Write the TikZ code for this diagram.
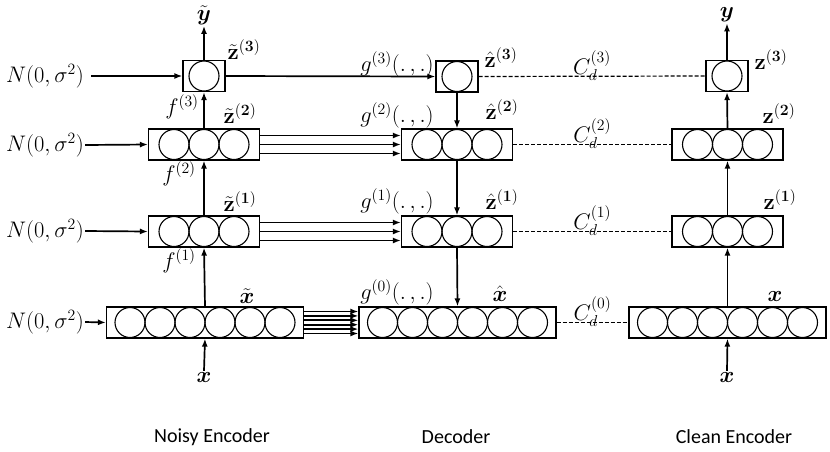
\RequirePackage{fix-cm}
\documentclass[tikz,border=0pt]{standalone}
\usepackage{amsmath}
\usepackage[no-math]{fontspec}
\setmainfont{Carlito}
\usetikzlibrary{positioning,arrows.meta}

\begin{document}
\begin{tikzpicture}[x=1pt, y=-1pt,
  lbl/.style={font=\fontsize{22.5}{26}\selectfont, inner sep=1pt},
  layer/.style={draw, line width=1.2pt, minimum height=31pt, inner sep=0pt},
  onebox/.style={layer, minimum width=42pt},
  threebox/.style={layer, minimum width=111pt},
  sixbox/.style={layer, minimum width=197pt},
  arr/.style={-{Latex[length=8pt,width=6pt]}, line width=1.7pt},
  costline/.style={line width=1.2pt, dash pattern=on 4pt off 2pt},
  title/.style={font=\fontsize{20}{24}\selectfont},
]
\useasboundingbox (0,0) rectangle (830,451);

% Noisy encoder
\node[onebox] (nz3) at (204,76) {};
\node[threebox] (nz2) at (204,144.5) {};
\node[threebox] (nz1) at (204,231.5) {};
\node[sixbox] (nx) at (205,322.5) {};

% Decoder
\node[onebox] (dz3) at (457,76.5) {};
\node[threebox] (dz2) at (457,144.5) {};
\node[threebox] (dz1) at (457,231.5) {};
\node[sixbox] (dx) at (457.5,322.5) {};

% Clean encoder
\node[onebox] (cz3) at (727,76) {};
\node[threebox] (cz2) at (727.5,144.5) {};
\node[threebox] (cz1) at (727.5,231.5) {};
\node[sixbox] (cx) at (727.5,322.5) {};

% units inside the layers
\foreach \b/\k in {nz3/1,dz3/1,cz3/1,nz2/3,dz2/3,cz2/3,nz1/3,dz1/3,cz1/3,nx/6,dx/6,cx/6}
  \foreach \i in {1,...,\k}
    \draw[line width=1.1pt] ([xshift={(\i-(\k+1)/2)*30}]\b.center) circle[radius=15pt];

% noise inputs
\node[lbl, anchor=west] (n3) at (5,76) {$N(0,\sigma^2)$};
\node[lbl, anchor=west] (n2) at (5,145) {$N(0,\sigma^2)$};
\node[lbl, anchor=west] (n1) at (5,231) {$N(0,\sigma^2)$};
\node[lbl, anchor=west] (n0) at (5,322) {$N(0,\sigma^2)$};

% inputs and outputs
\node[lbl] (ytil) at (204,15) {$\tilde{\boldsymbol{y}}$};
\node[lbl] (ycl) at (727,15) {$\boldsymbol{y}$};
\node[lbl] (xin) at (204,377) {$\boldsymbol{x}$};
\node[lbl] (xcl) at (727,377) {$\boldsymbol{x}$};

% layer labels
\node[lbl] at (244,50) {$\tilde{\mathbf{z}}^{(\mathbf{3})}$};
\node[lbl] at (240,114) {$\tilde{\mathbf{z}}^{(\mathbf{2})}$};
\node[lbl] at (240,202) {$\tilde{\mathbf{z}}^{(\mathbf{1})}$};
\node[lbl] at (247,296) {$\tilde{\boldsymbol{x}}$};
\node[lbl] at (182,107) {$f^{(3)}$};
\node[lbl] at (179,174) {$f^{(2)}$};
\node[lbl] at (179,261) {$f^{(1)}$};

\node[lbl] at (501,58) {$\hat{\mathbf{z}}^{(\mathbf{3})}$};
\node[lbl] at (502,110) {$\hat{\mathbf{z}}^{(\mathbf{2})}$};
\node[lbl] at (502,200) {$\hat{\mathbf{z}}^{(\mathbf{1})}$};
\node[lbl] at (500,294) {$\hat{\boldsymbol{x}}$};
\node[lbl] at (397,64) {$g^{(3)}(.\,,.)$};
\node[lbl] at (397,115) {$g^{(2)}(.\,,.)$};
\node[lbl] at (397,201) {$g^{(1)}(.\,,.)$};
\node[lbl] at (397,292) {$g^{(0)}(.\,,.)$};

\node[lbl] at (771,60) {$\mathbf{z}^{(\mathbf{3})}$};
\node[lbl] at (779,114) {$\mathbf{z}^{(\mathbf{2})}$};
\node[lbl] at (780,200) {$\mathbf{z}^{(\mathbf{1})}$};
\node[lbl] at (775,296) {$\boldsymbol{x}$};

% titles
\node[title] (tn) at (212,437) {Noisy Encoder};
\node[title] (td) at (456,437) {Decoder};
\node[title] (tc) at (734,437) {Clean Encoder};

% Arrows
\draw[arr] ([xshift=6pt]n3.east) -- (nz3.west);
\draw[arr] (n2.east) -- (nz2.west);
\draw[arr] (n1.east) -- (nz1.west);
\draw[arr] (n0.east) -- (nx.west);

\draw[arr] (xin.north) -- (nx.south);
\draw[arr] (nx.north) -- (nz1.south);
\draw[arr] (nz1.north) -- (nz2.south);
\draw[arr] (nz2.north) -- (nz3.south);
\draw[arr] (nz3.north) -- (ytil.south);

\draw[arr] (nz3.east) -- (dz3.west);
\foreach \s in {-9,0,9}
  \draw[arr] ([yshift=\s pt]nz2.east) -- ([yshift=\s pt]dz2.west);
\foreach \s in {-9,0,9}
  \draw[arr] ([yshift=\s pt]nz1.east) -- ([yshift=\s pt]dz1.west);
\foreach \s in {-11,-6.6,-2.2,2.2,6.6,11}
  \draw[arr] ([yshift=\s pt]nx.east) -- ([yshift=\s pt]dx.west);

\draw[arr] (dz3.south) -- (dz2.north);
\draw[arr] (dz2.south) -- (dz1.north);
\draw[arr] (dz1.south) -- (dx.north);

\draw[arr] (xcl.north) -- (cx.south);
\draw[arr] (cx.north) -- (cz1.south);
\draw[arr] (cz1.north) -- (cz2.south);
\draw[arr] (cz2.north) -- (cz3.south);
\draw[arr] (cz3.north) -- (ycl.south);

\draw[costline] (dz3.east) -- node[lbl, above, yshift=-6pt] {$C_d^{(3)}$} (cz3.west);
\draw[costline] (dz2.east) -- node[lbl, above, yshift=-6pt] {$C_d^{(2)}$} (cz2.west);
\draw[costline] (dz1.east) -- node[lbl, above, yshift=-6pt] {$C_d^{(1)}$} (cz1.west);
\draw[costline] (dx.east) -- node[lbl, above, yshift=-6pt] {$C_d^{(0)}$} (cx.west);
\end{tikzpicture}
\end{document}
